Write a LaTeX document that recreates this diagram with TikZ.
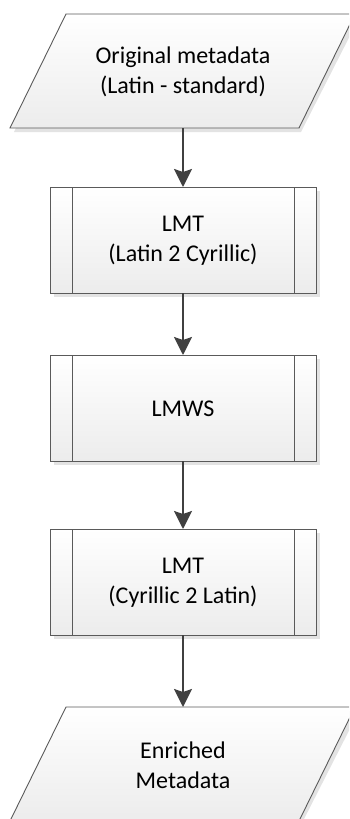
\documentclass[tikz,border=0pt]{standalone}
\usepackage{fontspec}
\setmainfont{Carlito}
\usetikzlibrary{arrows.meta,calc}

\definecolor{edge}{HTML}{5A5A5A}
\definecolor{flow}{HTML}{404040}
\definecolor{shade}{HTML}{E3E3E3}
\definecolor{fillbot}{HTML}{ECECEC}

\tikzset{
  x=1pt, y=-1pt,
  label/.style={align=center, font=\fontsize{24}{30}\selectfont, text=black, inner sep=0pt},
  outline/.style={draw=edge, line width=0.9pt, top color=white, bottom color=fillbot},
  dropshade/.style={fill=shade, draw=none},
  flowarrow/.style={draw=flow, line width=2.2pt, -{Stealth[length=18pt,width=18pt,inset=3pt]}, shorten >=0pt},
}

\newcommand{\procbox}[3]{% name, top y, text
  \fill[dropshade] (54,#2+4) rectangle (320,#2+110);
  \path[outline] (50,#2) rectangle (316,#2+106);
  \draw[edge, line width=0.9pt] (72,#2) -- (72,#2+106) (294,#2) -- (294,#2+106);
  \coordinate (#1-n) at (183,#2);
  \coordinate (#1-s) at (183,#2+106);
  \node[label] (#1) at (183,#2+54) {#3};
}

\newcommand{\iobox}[3]{% name, top y, text
  \fill[dropshade] (70,#2+4) -- (359,#2+4) -- (301,#2+118) -- (14,#2+118) -- cycle;
  \path[outline] (66,#2) -- (355,#2) -- (299,#2+114) -- (10,#2+114) -- cycle;
  \coordinate (#1-n) at (183,#2);
  \coordinate (#1-s) at (183,#2+114);
  \node[label] (#1) at (183,#2+58) {#3};
}

\begin{document}
\begin{tikzpicture}
  \useasboundingbox (0,0) rectangle (349,819);
  \clip (0,0) rectangle (349,819);

  \iobox{src}{14}{Original metadata\\(Latin - standard)}
  \procbox{lat2cyr}{187}{LMT\\(Latin 2 Cyrillic)}
  \procbox{lmws}{355}{LMWS}
  \procbox{cyr2lat}{529}{LMT\\(Cyrillic 2 Latin)}
  \iobox{out}{707}{Enriched\\Metadata}

  \draw[flowarrow] (src-s) -- (lat2cyr-n);
  \draw[flowarrow] (lat2cyr-s) -- (lmws-n);
  \draw[flowarrow] (lmws-s) -- (cyr2lat-n);
  \draw[flowarrow] (cyr2lat-s) -- (out-n);
\end{tikzpicture}
\end{document}
